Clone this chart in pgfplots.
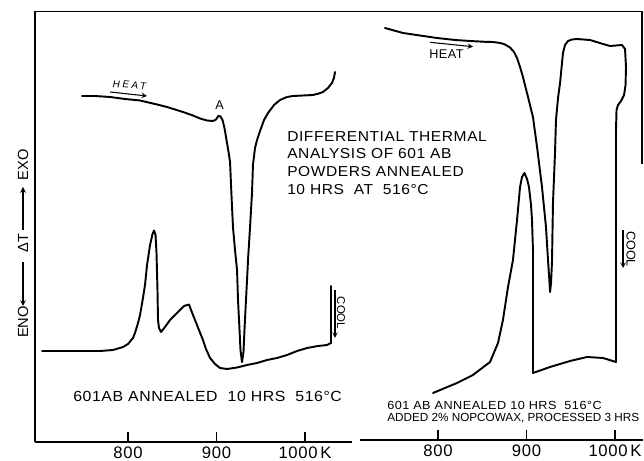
\documentclass[border=0pt]{standalone}
\usepackage{fontspec}
\setmainfont{Liberation Sans}
\newfontfamily\lsA[FakeStretch=1.08,LetterSpace=4]{Liberation Sans}
\newfontfamily\lsB[LetterSpace=4]{Liberation Sans}
\newfontfamily\lsH[LetterSpace=25,FakeSlant=0.15]{Liberation Sans}
\usepackage{pgfplots}
\pgfplotsset{compat=1.18}
\pgfplotsset{
  dta/.style={
    scale only axis, clip=false,
    axis x line=bottom,
    axis y line=#1,
    axis line style={-, line width=1pt, black},
    every outer x axis line/.append style={-},
    every outer y axis line/.append style={-},
    xtick={800,900,1000},
    xticklabels={800,900,1000\,K},
    ytick=\empty,
    xtick align=inside,
    major tick length=7.5pt,
    tick style={line width=1pt, black},
    xticklabel style={font=\lsB\fontsize{12.5}{14}\selectfont, text=black},
    /pgf/number format/assume math mode=true,
  },
  curve/.style={black, line width=1.45pt, line join=round, line cap=round, no markers},
}
\begin{document}
\begin{tikzpicture}
\useasboundingbox (0,0) rectangle (483pt,345.75pt);
% ---------- left panel ----------
\begin{axis}[dta=left,
  at={(26.25pt,14.25pt)}, anchor=south west,
  width=237.75pt, height=322.875pt,
  xmin=694.9, xmax=1053.1, ymin=-442, ymax=-11.5]
% heating
\addplot[curve] coordinates {
(748.0,-96) (762.7,-96) (779.7,-97) (796.6,-99) (813.6,-100.5) (830.5,-104)
(844.1,-107) (862.1,-112) (873.4,-115.5) (881.4,-118.5) (889.3,-120.5)
(896.1,-121) (899.5,-119.5) (902.3,-115.8) (904.5,-116.5) (906.8,-120)
(909.0,-128) (911.3,-140) (913.6,-152) (915.3,-162) (916.9,-195) (918.6,-227)
(920.9,-250) (923.2,-270) (924.3,-300) (926.0,-330) (927.1,-350) (928.8,-362)
(930.5,-352) (931.6,-330) (933.3,-300) (934.5,-280) (935.6,-260) (937.9,-227)
(939.0,-210) (940.1,-193) (941.2,-165) (943.5,-148) (945.8,-140) (949.2,-131)
(953.7,-120) (958.2,-113) (965.0,-105) (971.7,-100) (979.7,-97) (986.4,-96)
(997.7,-95.5) (1009.0,-95) (1015.8,-93.5) (1020.3,-92) (1025.9,-88)
(1030.4,-83) (1032.7,-78) (1033.9,-72)
};
% cooling
\addplot[curve] coordinates {
(1029.4,-286) (1029.4,-343) (1024.9,-345) (1014.7,-346) (1002.3,-348)
(991.0,-351) (979.7,-355) (968.4,-358) (957.1,-360) (945.8,-363) (934.5,-365)
(923.2,-367.5) (911.9,-369) (904.0,-368) (898.3,-364) (892.7,-358)
(888.1,-349) (884.7,-340) (880.2,-330) (875.7,-320) (871.2,-310)
(868.9,-304.5) (863.3,-306) (858.8,-310) (853.1,-315) (847.5,-320)
(841.8,-327) (837.3,-332) (835.0,-328) (833.9,-320) (833.3,-290)
(832.2,-253) (831.1,-235) (829.4,-230.5) (827.7,-234) (824.9,-245)
(821.5,-265) (819.2,-285) (816.9,-298) (813.6,-315) (811.3,-323)
(807.9,-333) (805.6,-338) (800,-344) (794.4,-347) (783.1,-350)
(768.4,-351) (745.8,-351) (723.2,-351) (702.8,-351)
};
\end{axis}
% ---------- right panel ----------
\begin{axis}[dta=none,
  at={(270pt,15.75pt)}, anchor=south west,
  width=212.25pt, height=321.375pt,
  xmin=711.9, xmax=1031.6, ymin=-440, ymax=-11.5]
\addplot[curve] coordinates {
(740.1,-28) (760.5,-33) (779.7,-35.5) (798.9,-38) (819.2,-40) (836.2,-41)
(853.1,-41.8) (862.1,-42) (868.9,-42.8) (874.6,-44) (881.4,-47.5)
(885.9,-52) (889.3,-58) (892.7,-67) (896.0,-77) (901.7,-97) (907.3,-117)
(911.9,-147) (917.5,-187) (922.0,-227) (924.3,-260) (925.8,-280)
(926.6,-292) (927.7,-283) (928.8,-262) (929.9,-203) (932.2,-153)
(933.3,-120) (935.6,-98) (937.9,-83) (941.2,-53) (943.5,-45) (946.9,-41)
(951.4,-39.5) (957.1,-39) (971.8,-40) (986.4,-44) (994.4,-46)
(1001.1,-45.5) (1007.9,-45) (1011.3,-49) (1012.4,-67) (1011.9,-85)
(1010.2,-95) (1006.8,-101) (1003.4,-105) (1001.7,-110) (1001.1,-130)
(1001.1,-362) (986.4,-358) (968.4,-357) (949.2,-361) (926.6,-367)
(907.3,-373) (907.3,-250) (906.2,-220) (905.1,-205) (902.8,-187)
(900.6,-179) (897.7,-173) (894.9,-177) (892.7,-187) (889.3,-220)
(884.7,-260) (879.1,-287) (873.4,-320) (867.8,-343) (858.8,-362)
(839.5,-375) (821.5,-383) (807.9,-388) (794.4,-393)
};
\end{axis}
% ---------- annotations ----------
\begin{scope}[x=0.75pt,y=-0.75pt,shift={(0pt,345.75pt)}]
% frame lines
\draw[line width=1.1pt, black, line cap=rect] (35,11.5) -- (642,11.5) -- (642,163);
% y label
\node[rotate=90, font=\fontsize{11}{12}\selectfont] at (23,322) {ENO};
\draw[line width=0.9pt,-stealth] (23,262) -- (23,306);
\node[rotate=90, font=\fontsize{11}{12}\selectfont] at (23,243) {ΔT};
\draw[line width=0.9pt,-stealth] (23,230) -- (23,187);
\node[rotate=90, font=\fontsize{11}{12}\selectfont] at (23,165) {EXO};
% left panel texts
\node[rotate=-4, font=\lsH\fontsize{7.5}{8}\selectfont] at (129,85) {HEAT};
\draw[line width=0.8pt,-stealth] (110,92) -- (147,96);
\node[font=\fontsize{9.5}{10}\selectfont] at (219.5,105) {A};
\begin{scope}[every node/.style={anchor=base west, inner sep=0pt, font=\lsA\fontsize{10.8}{12}\selectfont}]
\node at (287,142) {DIFFERENTIAL THERMAL};
\node at (287,159) {ANALYSIS OF 601 AB};
\node at (287,177) {POWDERS ANNEALED};
\node at (287,195) {10 HRS\ \ AT\ \ 516°C};
\end{scope}
\node[anchor=base west, inner sep=0pt, font=\lsA\fontsize{11}{13}\selectfont] at (73,402) {601AB ANNEALED\ \ 10 HRS\ \ 516°C};
\node[rotate=-90, font=\fontsize{8.5}{10}\selectfont] at (341,313) {COOL};
\draw[line width=0.8pt,-stealth] (335,290) -- (335,338);
% right panel texts
\node[font=\lsB\fontsize{9.5}{11}\selectfont] at (446.5,54) {HEAT};
\draw[line width=0.8pt,-stealth] (430,42.3) -- (473,46.7);
\node[rotate=-90, font=\fontsize{9.5}{11}\selectfont] at (631,249) {COOL};
\draw[line width=0.8pt,-stealth] (623,230) -- (623,268);
\node[anchor=base west, inner sep=0pt, font=\lsA\fontsize{8.8}{10}\selectfont] at (387,409.5) {601 AB ANNEALED 10 HRS\ \ 516°C};
\node[anchor=base west, inner sep=0pt, font=\fontsize{8.8}{10}\selectfont] at (387,422) {ADDED 2\% NOPCOWAX, PROCESSED 3 HRS};
\end{scope}
\end{tikzpicture}
\end{document}
